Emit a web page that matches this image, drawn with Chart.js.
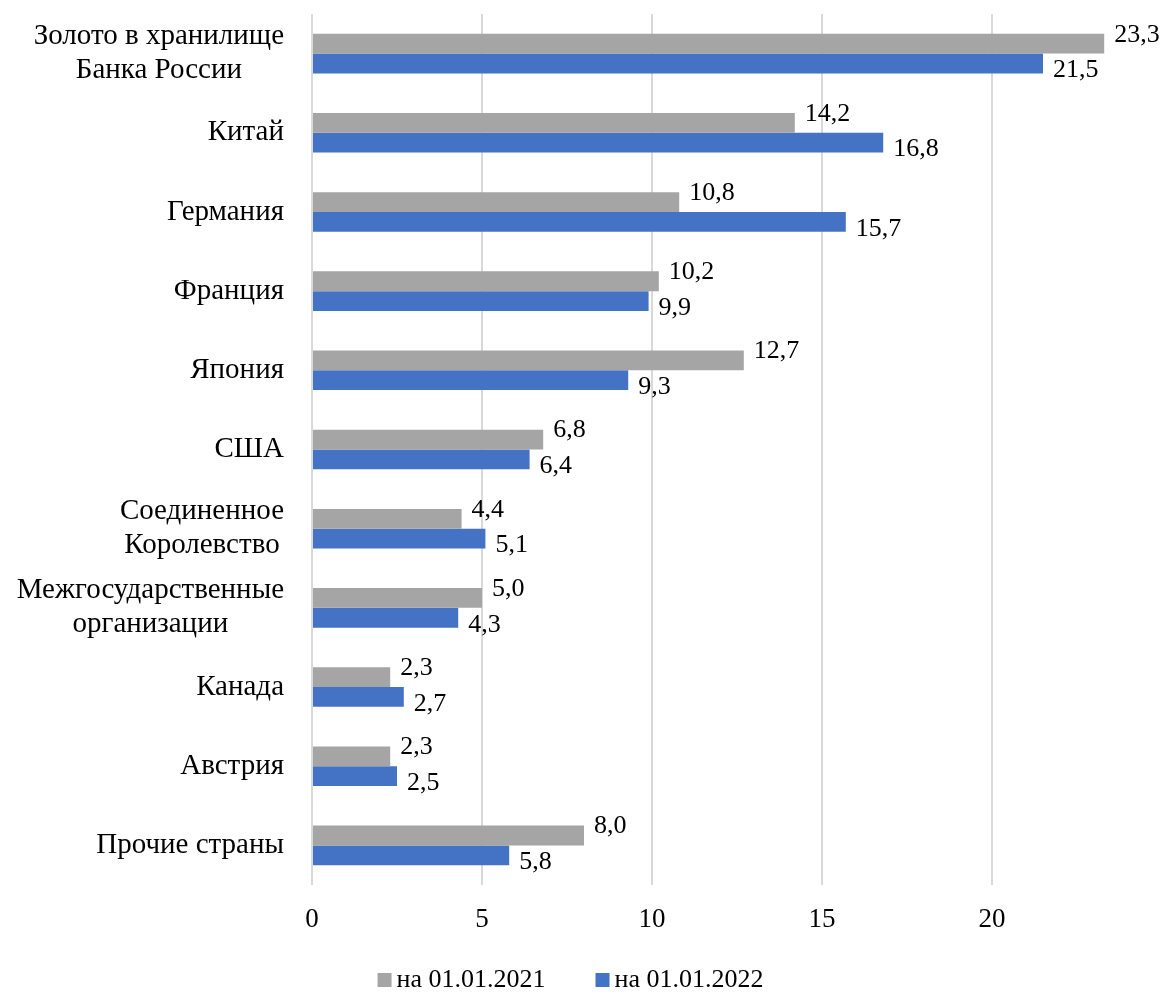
<!DOCTYPE html>
<html>
<head>
<meta charset="utf-8">
<script src="https://cdn.jsdelivr.net/npm/chart.js@4"></script>
<style>
  html, body { margin: 0; padding: 0; background: #fff; }
  #wrap { width: 1169px; height: 997px; position: relative; }
</style>
</head>
<body>
<div id="wrap"><canvas id="barChart"></canvas></div>
<script>
// categories (multi-line ones are arrays)
const categories = [
    ['Золото в хранилище', 'Банка России'],
    'Китай',
    'Германия',
    'Франция',
    'Япония',
    'США',
    ['Соединенное', 'Королевство'],
    ['Межгосударственные', 'организации'],
    'Канада',
    'Австрия',
    'Прочие страны'
];
const seriesNames = ['на 01.01.2021', 'на 01.01.2022'];
const values2021 = [23.3, 14.2, 10.8, 10.2, 12.7, 6.8, 4.4, 5.0, 2.3, 2.3, 8.0];
const values2022 = [21.5, 16.8, 15.7, 9.9, 9.3, 6.4, 5.1, 4.3, 2.7, 2.5, 5.8];
const xTicks = [0, 5, 10, 15, 20];

const FONT = "'Liberation Serif', 'Times New Roman', serif";
const GRAY = '#A5A5A5';
const BLUE = '#4472C4';

// y labels: lines centered inside their block, blocks right aligned
const yLabelPlugin = {
    id: 'yLabels',
    afterDraw(chart) {
        const ctx = chart.ctx;
        const scale = chart.scales.y;
        const right = chart.chartArea.left - 28;
        ctx.save();
        ctx.font = '29px ' + FONT;
        ctx.fillStyle = '#000';
        ctx.textBaseline = 'middle';
        ctx.textAlign = 'center';
        categories.forEach((lab, i) => {
            const lines = Array.isArray(lab) ? lab : [lab];
            const w = Math.max(...lines.map(l => ctx.measureText(l).width));
            const cx = right - w / 2;
            const cy = scale.getPixelForTick(i);
            const lh = 34;
            lines.forEach((l, j) => {
                ctx.fillText(l, cx, cy + (j - (lines.length - 1) / 2) * lh);
            });
        });
        ctx.restore();
    }
};

// value labels next to the end of each bar
const valueLabelPlugin = {
    id: 'valueLabels',
    afterDatasetsDraw(chart) {
        const ctx = chart.ctx;
        ctx.save();
        ctx.font = '26px ' + FONT;
        ctx.fillStyle = '#000';
        ctx.textAlign = 'left';
        ctx.textBaseline = 'middle';
        chart.data.datasets.forEach((ds, di) => {
            const meta = chart.getDatasetMeta(di);
            const shift = di === 0 ? -9 : 7;
            meta.data.forEach((bar, i) => {
                const txt = ds.data[i].toFixed(1).replace('.', ',');
                ctx.fillText(txt, bar.x + 10, bar.y + shift);
            });
        });
        ctx.restore();
    }
};

// legend drawn by hand: small square, short gap, wide gap between items
const legendPlugin = {
    id: 'bottomLegend',
    afterDraw(chart) {
        const ctx = chart.ctx;
        ctx.save();
        ctx.font = '26px ' + FONT;
        ctx.textBaseline = 'middle';
        ctx.textAlign = 'left';
        const box = 14, gap = 5, itemGap = 50;
        const items = chart.data.datasets.map(ds => ({
            text: ds.label, color: ds.backgroundColor, w: ctx.measureText(ds.label).width
        }));
        const total = items.reduce((s, it) => s + box + gap + it.w, 0) + itemGap * (items.length - 1);
        let x = chart.width / 2 - 14 - total / 2;
        const y = 980;
        items.forEach(it => {
            ctx.fillStyle = it.color;
            ctx.fillRect(x, y - box / 2, box, box);
            ctx.fillStyle = '#000';
            ctx.fillText(it.text, x + box + gap, y);
            x += box + gap + it.w + itemGap;
        });
        ctx.restore();
    }
};

const ctx = document.getElementById('barChart').getContext('2d');
const barChart = new Chart(ctx, {
    type: 'bar',
    data: {
        labels: categories,
        datasets: [{
            label: seriesNames[0],
            data: values2021,
            backgroundColor: GRAY,
            categoryPercentage: 0.5,
            barPercentage: 1.0
        }, {
            label: seriesNames[1],
            data: values2022,
            backgroundColor: BLUE,
            categoryPercentage: 0.5,
            barPercentage: 1.0
        }]
    },
    options: {
        indexAxis: 'y',
        responsive: true,
        maintainAspectRatio: false,
        animation: false,
        layout: {
            padding: { top: 14, right: 58, bottom: 0, left: 0 }
        },
        plugins: {
            legend: { display: false },
            tooltip: { enabled: false }
        },
        scales: {
            x: {
                min: 0,
                max: 23.5,
                afterBuildTicks: (scale) => {
                    scale.ticks = xTicks.map(v => ({ value: v }));
                },
                afterFit: (scale) => { scale.height = 112; },
                ticks: {
                    font: { family: FONT, size: 27 },
                    color: '#000',
                    padding: 19
                },
                grid: {
                    color: '#D9D9D9',
                    lineWidth: 2,
                    drawTicks: false
                },
                border: { display: false }
            },
            y: {
                afterFit: (scale) => { scale.width = 312; },
                ticks: {
                    color: 'transparent',
                    font: { family: FONT, size: 8 }
                },
                grid: { display: false, drawTicks: false },
                border: { display: false }
            }
        }
    },
    plugins: [yLabelPlugin, valueLabelPlugin, legendPlugin]
});
</script>
</body>
</html>
